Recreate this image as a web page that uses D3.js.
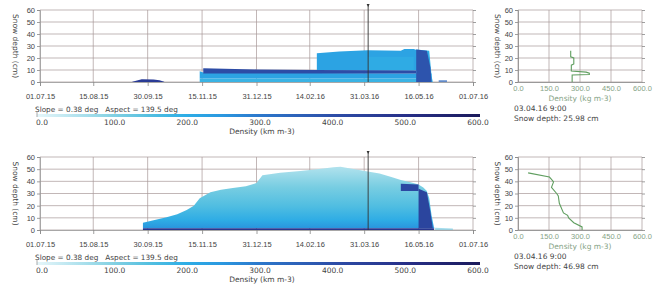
<!DOCTYPE html>
<html>
<head>
<meta charset="utf-8">
<script src="https://cdn.jsdelivr.net/npm/d3@7"></script>
<style>
  body { margin: 0; background: #fff; }
  svg { display: block; font-family: "DejaVu Sans", Verdana, sans-serif; }
</style>
</head>
<body>
<svg id="chart" width="653" height="291"></svg>
<script>
// ---- data ----
const dateTicks = ["2015-07-01", "2015-08-15", "2015-09-30", "2015-11-15", "2015-12-31",
                   "2016-02-14", "2016-03-31", "2016-05-16", "2016-07-01"];
const depthTicks = [0, 10, 20, 30, 40, 50, 60];
const densityTicks = [0, 100, 200, 300, 400, 500, 600];
const profileTicks = [0, 150, 300, 450, 600];
const densityStops = [0, 100, 150, 200, 250, 300, 400, 500, 600];
const densityColors = ["#e6f6fa", "#86d2e3", "#55c0e0", "#2eaee6", "#2a98e0",
                       "#2c78cc", "#2d4ea8", "#272f88", "#1b1a5a"];
const profileTime = "2016-04-03 09:00";

// top panel layers: [date, bottom cm, top cm]
const aEarly = [["2015-09-17", 0, 0.3], ["2015-09-21", 0, 1.2], ["2015-09-25", 0, 2.2],
                ["2015-10-05", 0, 2], ["2015-10-10", 0, 1.4], ["2015-10-14", 0, 0.3]];
const aBase = [["2015-11-13", 0, 3], ["2016-05-27", 0, 3]];
const aLower = [["2015-11-13", 3, 9], ["2015-11-16", 3, 8], ["2016-05-27", 3, 7]];
const aCrust = [["2015-11-16", 7, 11.5], ["2015-12-31", 7, 10.5], ["2016-02-20", 7, 10], ["2016-05-14", 7, 9.5]];
const aUpper = [["2016-02-20", 10, 24], ["2016-03-10", 9.5, 25.5], ["2016-04-03", 9.5, 26.5],
                ["2016-05-01", 9.5, 26], ["2016-05-04", 9.5, 27.5], ["2016-05-12", 9.5, 27.5], ["2016-05-16", 9.5, 26]];
const aLight = [["2016-04-03", 9.5, 21], ["2016-05-12", 9.5, 21]];
const aEdge = [["2016-05-14", 0, 27], ["2016-05-25", 0, 26], ["2016-05-27", 0, 5], ["2016-05-28", 0, 0]];
const aMelt = [["2016-05-14", 0, 27], ["2016-05-23", 0, 26], ["2016-05-26", 0, 12], ["2016-05-27", 0, 0]];
const aTail = [["2016-06-02", 0, 1.5], ["2016-06-09", 0, 1.5]];
const aDensity = { early: 460, base: 185, lower: 225, crust: 405, upper: 225, light: 195, edge: 200, melt: 385, tail: 340 };

// bottom panel
const bBase = [["2015-09-26", 0, 1.5], ["2016-05-29", 0, 1.5]];
const bPack = [["2015-09-26", 1.5, 6], ["2015-10-05", 1.5, 8], ["2015-10-16", 1.5, 10.5], ["2015-10-25", 1.5, 13],
               ["2015-11-02", 1.5, 16.5], ["2015-11-08", 1.5, 20], ["2015-11-13", 1.5, 26], ["2015-11-22", 1.5, 31],
               ["2015-12-01", 1.5, 33], ["2015-12-11", 1.5, 34.5], ["2015-12-22", 1.5, 36], ["2015-12-31", 1.5, 38.6],
               ["2016-01-05", 1.5, 45], ["2016-01-20", 1.5, 47], ["2016-02-06", 1.5, 48.5], ["2016-02-20", 1.5, 50],
               ["2016-03-05", 1.5, 51.5], ["2016-03-11", 1.5, 52], ["2016-04-03", 1.5, 48], ["2016-04-13", 1.5, 46.5],
               ["2016-04-23", 1.5, 43.5], ["2016-05-01", 1.5, 41], ["2016-05-10", 1.5, 39], ["2016-05-16", 1.5, 37.5],
               ["2016-05-20", 1.5, 35], ["2016-05-23", 1.5, 32], ["2016-05-25", 1.5, 26], ["2016-05-27", 1.5, 12],
               ["2016-05-29", 1.5, 2], ["2016-05-30", 1.5, 1.5]];
const bPackDepth = [1.5, 8, 20, 35, 52];
const bPackDensity = [255, 205, 155, 115, 55];
const bBlock = [["2016-05-01", 32, 38], ["2016-05-16", 32, 37.5]];
const bColumn = [["2016-05-16", 1.5, 34], ["2016-05-23", 1.5, 31], ["2016-05-26", 1.5, 15], ["2016-05-28", 1.5, 1.5]];
const bTail = [["2016-05-30", 0, 1.8], ["2016-06-14", 0, 1.2]];
const bDensity = { base: 480, block: 420, column: 430, tail: 130 };

// profiles: [density, depth]
const profileA = [[262, 0], [262, 5.8], [345, 6.2], [345, 7.4], [330, 8.2], [258, 9.2], [258, 14],
                  [270, 15], [270, 20], [255, 21], [255, 25.98]];
const profileB = [[310, 0], [310, 2.5], [270, 6], [245, 10], [240, 12], [220, 14], [200, 22], [195, 28],
                  [187, 30], [162, 35], [172, 39.5], [160, 42], [152, 43.5], [49, 46.98]];

// ---- scales ----
const parse = d3.timeParse("%Y-%m-%d");
const parseTime = d3.timeParse("%Y-%m-%d %H:%M");
const svg = d3.select("#chart");
const x = d3.scaleTime().domain([parse("2015-07-01"), parse("2016-07-01")]).range([40, 473]);
const px = d3.scaleLinear().domain([0, 600]).range([518, 642]);
const cb = d3.scaleLinear().domain([0, 600]).range([42, 478]);
const color = d3.scaleLinear().domain(densityStops).range(densityColors);

const gridColor = "#a89898";
const textColor = "#444";
const greenText = "#86a386";

// colour bar gradient
const defs = svg.append("defs");
const cbGrad = defs.append("linearGradient").attr("id", "cbGrad");
d3.range(0, 601, 25).forEach(v => {
  cbGrad.append("stop").attr("offset", v / 600).attr("stop-color", color(v));
});

function panel(zeroY, topY, layers, pack, profile, depthText, idx) {
  const y = d3.scaleLinear().domain([0, 60]).range([zeroY, topY]);
  const g = svg.append("g");

  // grid
  g.selectAll(".hg").data(depthTicks).join("line")
    .attr("x1", 40).attr("x2", 473).attr("y1", d => y(d)).attr("y2", d => y(d))
    .attr("stroke", gridColor).attr("stroke-width", 0.7);
  g.selectAll(".vg").data(dateTicks).join("line")
    .attr("x1", d => x(parse(d))).attr("x2", d => x(parse(d)))
    .attr("y1", y(60)).attr("y2", zeroY)
    .attr("stroke", gridColor).attr("stroke-width", 0.7);

  const area = d3.area()
    .x(d => x(parse(d[0])))
    .y0(d => y(d[1]))
    .y1(d => y(d[2]));

  // snowpack with density gradient over depth
  if (pack) {
    const grad = defs.append("linearGradient").attr("id", "pack" + idx)
      .attr("gradientUnits", "userSpaceOnUse")
      .attr("x1", 0).attr("x2", 0).attr("y1", y(0)).attr("y2", y(60));
    pack.depth.forEach((dp, i) => {
      grad.append("stop").attr("offset", dp / 60).attr("stop-color", color(pack.density[i]));
    });
    g.append("path").datum(pack.data).attr("d", area).attr("fill", `url(#pack${idx})`);
  }

  layers.forEach(l => {
    g.append("path").datum(l.data).attr("d", area)
      .attr("fill", color(l.density)).attr("opacity", l.opacity || 1);
  });

  // axes
  const ax = g.append("g").attr("transform", `translate(40,0)`)
    .call(d3.axisLeft(y).tickValues(depthTicks).tickSize(3).tickPadding(2));
  const bx = g.append("g").attr("transform", `translate(0,${zeroY})`)
    .call(d3.axisBottom(x).tickValues(dateTicks.map(parse))
      .tickFormat(d3.timeFormat("%d.%m.%y")).tickSize(4).tickPadding(8));
  const rx = g.append("g").attr("transform", `translate(473,0)`)
    .call(d3.axisRight(y).tickValues(depthTicks).tickSize(3).tickFormat(""));
  [ax, bx, rx].forEach(a => {
    a.selectAll("path,line").attr("stroke", "#888").attr("stroke-width", 0.8);
    a.selectAll("text").attr("fill", textColor).attr("font-size", 7.5);
    a.select(".domain").attr("stroke", "#999");
  });
  rx.select(".domain").remove();

  g.append("text")
    .attr("transform", `translate(13,${(zeroY + topY) / 2}) rotate(90)`)
    .attr("text-anchor", "middle").attr("font-size", 7.5).attr("fill", textColor)
    .text("Snow depth (cm)");

  // profile time marker
  const mx = x(parseTime(profileTime));
  g.append("line").attr("x1", mx).attr("x2", mx).attr("y1", topY - 5).attr("y2", zeroY)
    .attr("stroke", "#333").attr("stroke-width", 0.9);
  g.append("path").attr("d", `M${mx - 1.5},${topY - 6}L${mx + 1.5},${topY - 6}L${mx},${topY - 3}Z`)
    .attr("fill", "#333");

  // slope / aspect line
  g.append("text").attr("x", 35).attr("y", zeroY + 30)
    .attr("font-size", 7.3).attr("fill", textColor).style("white-space", "pre")
    .text("Slope = 0.38 deg   Aspect = 139.5 deg");

  // colour bar
  g.append("rect").attr("x", 37).attr("y", zeroY + 32).attr("width", 443).attr("height", 3)
    .attr("fill", "url(#cbGrad)");
  g.append("line").attr("x1", 37).attr("x2", 37).attr("y1", zeroY + 30).attr("y2", zeroY + 35)
    .attr("stroke", "#888").attr("stroke-width", 0.7);
  g.selectAll(".cbl").data(densityTicks).join("text")
    .attr("x", d => cb(d)).attr("y", zeroY + 43)
    .attr("text-anchor", "middle").attr("font-size", 7.5).attr("fill", textColor)
    .text(d => d3.format(".1f")(d));
  g.append("text").attr("x", 262).attr("y", zeroY + 52)
    .attr("text-anchor", "middle").attr("font-size", 7.5).attr("fill", textColor)
    .text("Density (km m-3)");

  // ---- profile panel ----
  const p = svg.append("g");
  p.selectAll(".phg").data(depthTicks).join("line")
    .attr("x1", 518).attr("x2", 642).attr("y1", d => y(d)).attr("y2", d => y(d))
    .attr("stroke", gridColor).attr("stroke-width", 0.7);
  p.selectAll(".pvg").data(profileTicks).join("line")
    .attr("x1", d => px(d)).attr("x2", d => px(d)).attr("y1", y(60)).attr("y2", zeroY)
    .attr("stroke", gridColor).attr("stroke-width", 0.7);

  const pa = p.append("g").attr("transform", "translate(518,0)")
    .call(d3.axisLeft(y).tickValues(depthTicks).tickSize(3).tickPadding(2));
  const pb = p.append("g").attr("transform", `translate(0,${zeroY})`)
    .call(d3.axisBottom(px).tickValues(profileTicks).tickFormat(d3.format(".1f")).tickSize(0).tickPadding(4));
  const pr = p.append("g").attr("transform", "translate(642,0)")
    .call(d3.axisRight(y).tickValues(depthTicks).tickSize(3).tickFormat(""));
  [pa, pb, pr].forEach(a => {
    a.selectAll("path,line").attr("stroke", "#888").attr("stroke-width", 0.8);
    a.selectAll("text").attr("fill", textColor).attr("font-size", 7.5);
  });
  pb.selectAll("text").attr("fill", greenText);
  pr.select(".domain").remove();

  p.append("text")
    .attr("transform", `translate(495,${(zeroY + topY) / 2}) rotate(90)`)
    .attr("text-anchor", "middle").attr("font-size", 7.5).attr("fill", textColor)
    .text("Snow depth (cm)");

  p.append("path").datum(profile)
    .attr("d", d3.line().x(d => px(d[0])).y(d => y(d[1])))
    .attr("fill", "none").attr("stroke", "#5f9e5f").attr("stroke-width", 1.1);

  p.append("text").attr("x", 580).attr("y", zeroY + 19)
    .attr("text-anchor", "middle").attr("font-size", 7.5).attr("fill", greenText)
    .text("Density (kg m-3)");
  p.append("text").attr("x", 514).attr("y", zeroY + 29)
    .attr("font-size", 7.5).attr("fill", textColor)
    .text("03.04.16 9:00");
  p.append("text").attr("x", 514).attr("y", zeroY + 39)
    .attr("font-size", 7.5).attr("fill", textColor)
    .text(depthText);
}

panel(82, 10, [
  { data: aEarly, density: aDensity.early },
  { data: aBase, density: aDensity.base },
  { data: aLower, density: aDensity.lower },
  { data: aUpper, density: aDensity.upper },
  { data: aLight, density: aDensity.light, opacity: 0.6 },
  { data: aCrust, density: aDensity.crust },
  { data: aEdge, density: aDensity.edge },
  { data: aMelt, density: aDensity.melt },
  { data: aTail, density: aDensity.tail, opacity: 0.7 }
], null, profileA, "Snow depth: 25.98 cm", 0);

panel(230, 157, [
  { data: bBase, density: bDensity.base },
  { data: bBlock, density: bDensity.block },
  { data: bColumn, density: bDensity.column },
  { data: bTail, density: bDensity.tail, opacity: 0.6 }
], { data: bPack, depth: bPackDepth, density: bPackDensity }, profileB, "Snow depth: 46.98 cm", 1);
</script>
</body>
</html>
